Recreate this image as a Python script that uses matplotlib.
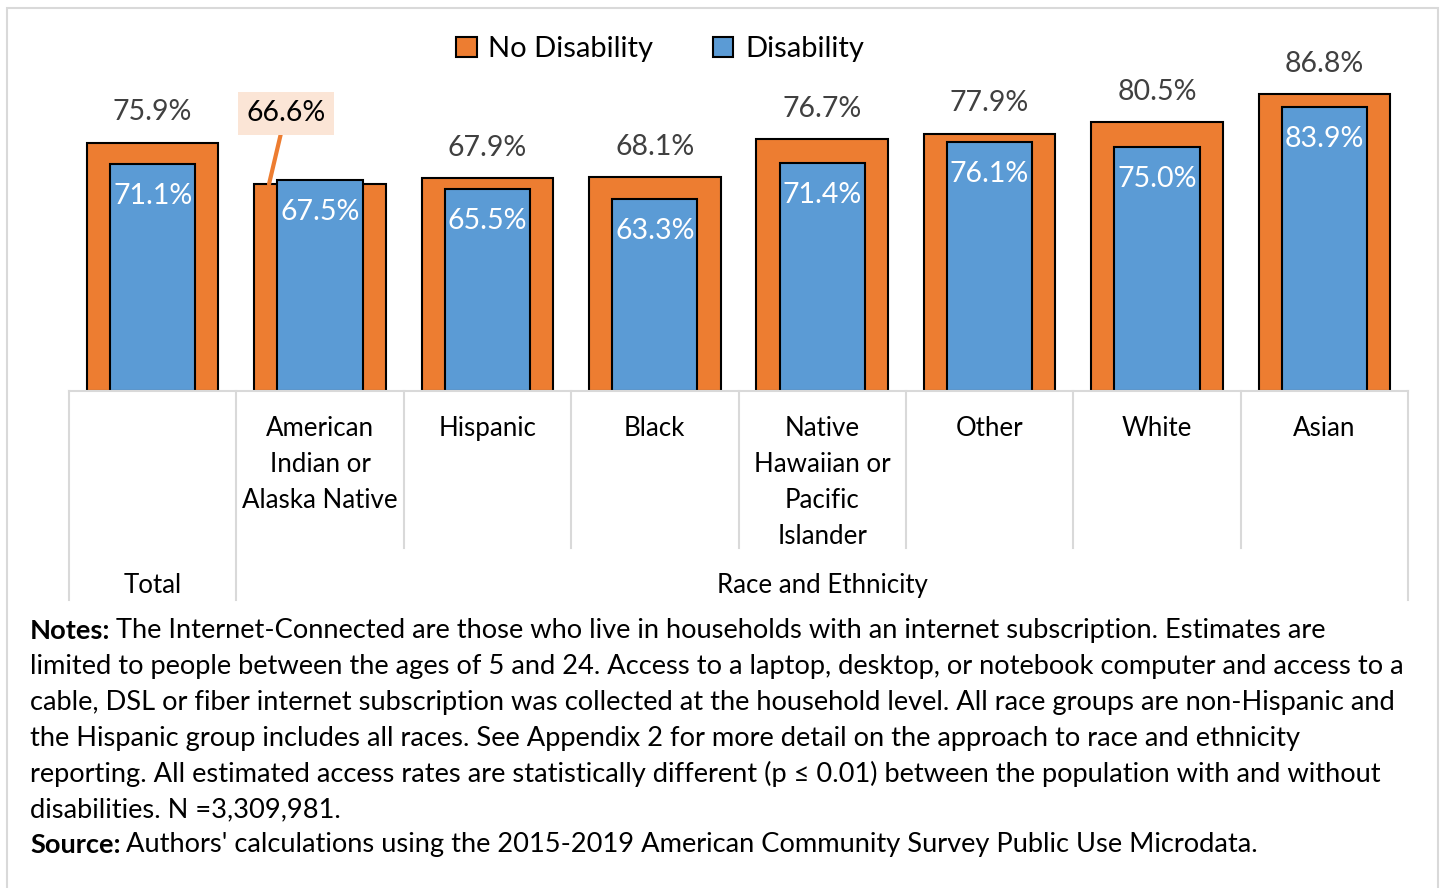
import matplotlib.pyplot as plt
from matplotlib.patches import Rectangle

plt.rcParams['font.family'] = ['Lato', 'DejaVu Sans']

categorias = ['', 'American\nIndian or\nAlaska Native', 'Hispanic', 'Black',
              'Native\nHawaiian or\nPacific\nIslander', 'Other', 'White', 'Asian']
sem_deficiencia = [75.9, 66.6, 67.9, 68.1, 76.7, 77.9, 80.5, 86.8]
com_deficiencia = [71.1, 67.5, 65.5, 63.3, 71.4, 76.1, 75.0, 83.9]

notas = [
    'The Internet-Connected are those who live in households with an internet subscription. Estimates are',
    'limited to people between the ages of 5 and 24. Access to a laptop, desktop, or notebook computer and access to a',
    'cable, DSL or fiber internet subscription was collected at the household level. All race groups are non-Hispanic and',
    'the Hispanic group includes all races. See Appendix 2 for more detail on the approach to race and ethnicity',
    'reporting. All estimated access rates are statistically different (p \u2264 0.01) between the population with and without',
    'disabilities. N =3,309,981.',
]
fonte = "Authors' calculations using the 2015-2019 American Community Survey Public Use Microdata."

LARANJA = '#ED7D31'
AZUL = '#5B9BD5'
CINZA = '#D9D9D9'
FS_NOTA = 19.6
FS_CAT = 18.6

W, H = 1448, 888
fig = plt.figure(figsize=(W / 100, H / 100), dpi=100)

# moldura do grafico
fig.add_artist(Rectangle((7 / W, -0.01), (1438 - 7) / W, 1 - 8 / H + 0.01,
                         transform=fig.transFigure, fill=False,
                         edgecolor=CINZA, linewidth=1.5))

base = 391
topo = base - 80 * 4.44
ax = fig.add_axes([69 / W, 1 - base / H, (1408 - 69) / W, (base - topo) / H])
ax.set_xlim(-0.5, 7.5)
ax.set_ylim(20, 100)
ax.set_yticks([])
ax.set_xticks([])
for s in ['top', 'left', 'right']:
    ax.spines[s].set_visible(False)
ax.spines['bottom'].set_color(CINZA)
ax.spines['bottom'].set_linewidth(1.5)

x = list(range(len(categorias)))
ax.bar(x, [v - 20 for v in sem_deficiencia], bottom=20, width=0.785,
       color=LARANJA, edgecolor='black', linewidth=1.5, label='No Disability')
ax.bar(x, [v - 20 for v in com_deficiencia], bottom=20, width=0.51,
       color=AZUL, edgecolor='black', linewidth=1.5, label='Disability')

# rotulos de valor
for i, v in enumerate(sem_deficiencia):
    if i == 1:
        ax.annotate(f'{v:.1f}%', xy=(i - 0.305, v), xytext=(12, 51),
                    textcoords='offset points', ha='center', va='center',
                    fontsize=20.5, color='black',
                    bbox=dict(boxstyle='square,pad=0.3', fc='#FBE5D6', ec='none'),
                    arrowprops=dict(arrowstyle='-', color=LARANJA, lw=3,
                                    shrinkA=0, shrinkB=0))
    else:
        ax.annotate(f'{v:.1f}%', xy=(i, v), xytext=(0, 22),
                    textcoords='offset points', ha='center', va='center',
                    fontsize=20.5, color='#404040')
for i, v in enumerate(com_deficiencia):
    ax.annotate(f'{v:.1f}%', xy=(i, v), xytext=(0, -23),
                textcoords='offset points', ha='center', va='center',
                fontsize=20.5, color='white')

# eixo de categorias em dois niveis
tr = ax.get_xaxis_transform()
alt = base - topo
for b in [-0.5, 0.5, 1.5, 2.5, 3.5, 4.5, 5.5, 6.5, 7.5]:
    fim = 600 if b in (-0.5, 0.5, 7.5) else 548
    ax.plot([b, b], [0, -(fim - base) / alt], transform=tr, color=CINZA,
            lw=1.5, clip_on=False)
for i, c in enumerate(categorias):
    ax.text(i, -(416 - base) / alt, c, transform=tr, ha='center', va='top',
            fontsize=FS_CAT, linespacing=1.55)
ax.text(0, -(585 - base) / alt, 'Total', transform=tr, ha='center',
        va='center', fontsize=FS_CAT)
ax.text(4, -(585 - base) / alt, 'Race and Ethnicity', transform=tr,
        ha='center', va='center', fontsize=FS_CAT)

ax.legend(loc='center', bbox_to_anchor=(660 / W, 1 - 49 / H),
          bbox_transform=fig.transFigure, ncol=2, frameon=False, fontsize=21,
          handlelength=0.7, handleheight=0.7, handletextpad=0.4,
          columnspacing=2.05)

# notas e fonte
def linha(y, negrito, texto):
    t = fig.text(30 / W, 1 - y / H, negrito, fontsize=FS_NOTA, fontweight='bold',
                 va='center', ha='left')
    ax.annotate(texto, xy=(1, 0), xycoords=t, xytext=(4, 0),
                textcoords='offset points', va='bottom', ha='left',
                fontsize=FS_NOTA, annotation_clip=False)

ys = [631 + 35.7 * k for k in range(len(notas))]
linha(ys[0], 'Notes:', notas[0])
for y, txt in zip(ys[1:], notas[1:]):
    fig.text(30 / W, 1 - y / H, txt, fontsize=FS_NOTA, va='center', ha='left')
linha(845, 'Source:', fonte)

fig.savefig('out.png', dpi=100)
